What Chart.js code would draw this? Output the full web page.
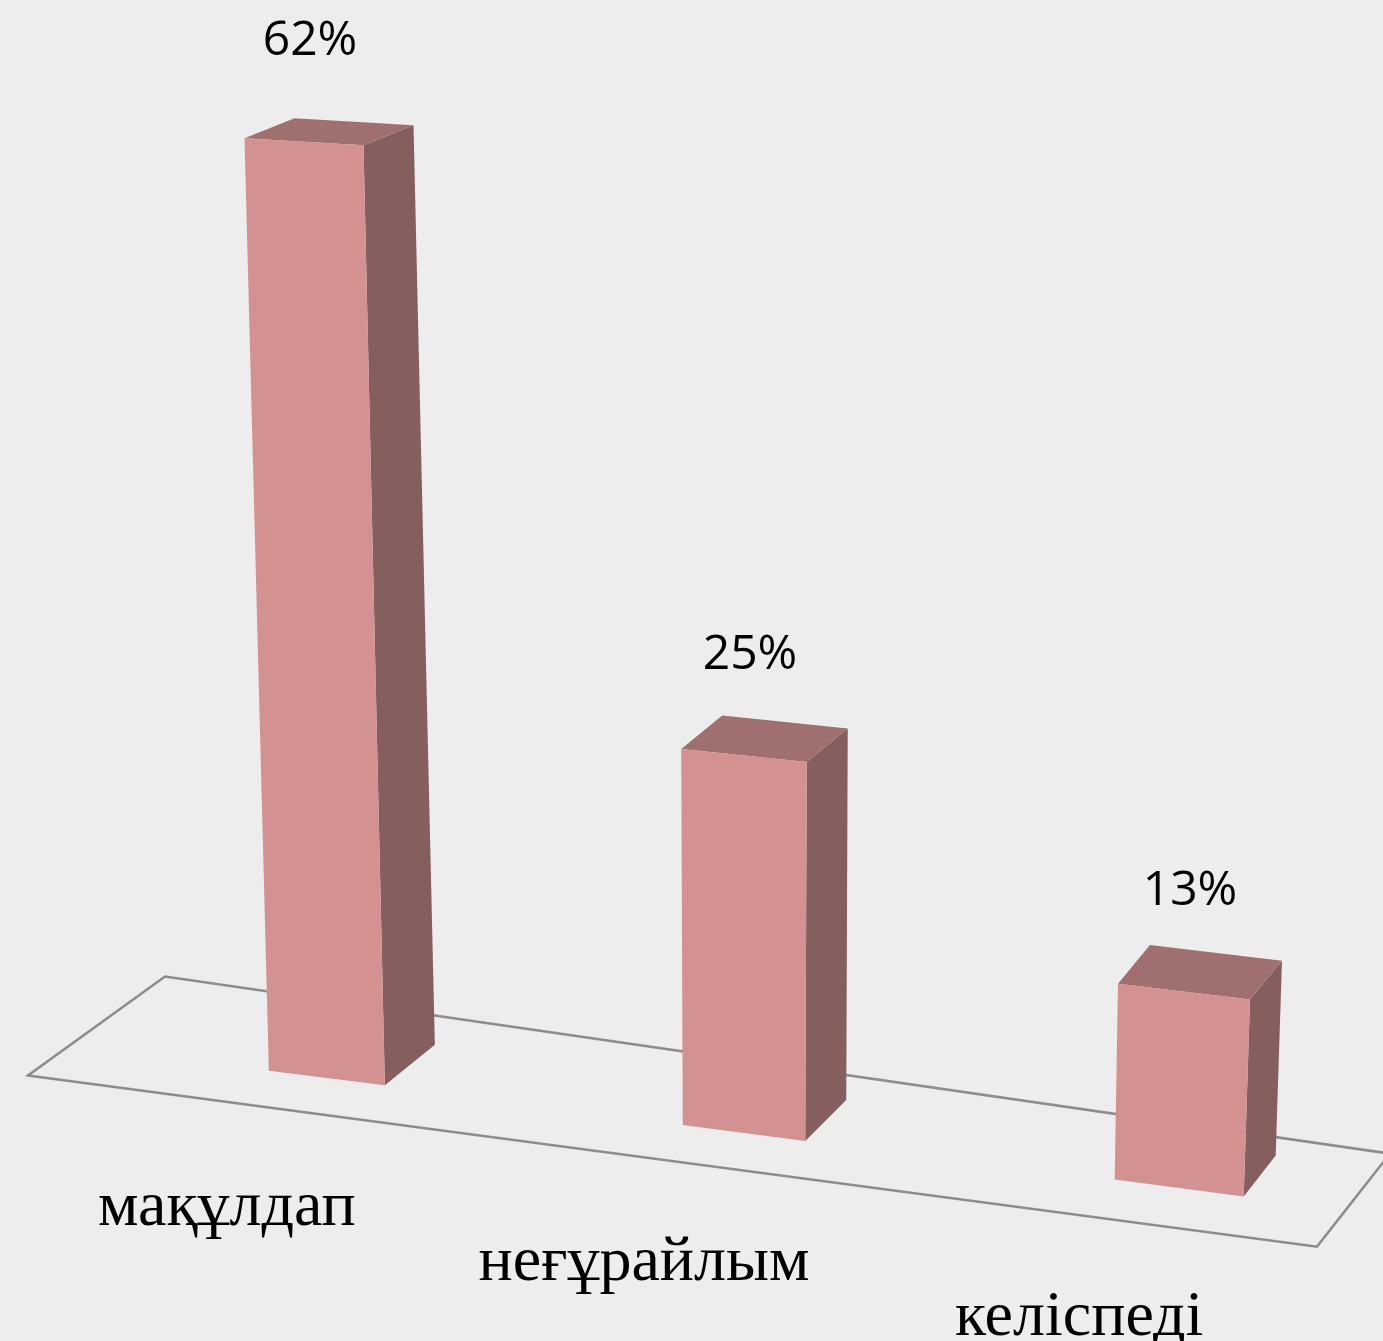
<!DOCTYPE html>
<html>
<head>
<meta charset="utf-8">
<script src="https://cdn.jsdelivr.net/npm/chart.js@4"></script>
<style>
  html, body { margin: 0; padding: 0; background: #ededed; }
  canvas { display: block; }
</style>
</head>
<body>
<canvas id="bar3d" width="1383" height="1341"></canvas>
<script>
const categories = ['мақұлдап', 'неғұрайлым', 'келіспеді'];
const percentages = [62, 25, 13];
const valueLabels = ['62%', '25%', '13%'];

// perspective helpers for the fake 3d look
const tilt = 0.125;
function edgeSlope(y) { return 0.05 + 0.00007 * y; }
function depthOf(xc, y, left) {
    return [50 - (xc - left) * 0.0205, Math.max(-41, -20 - 0.022 * (y - 140))];
}

const bars3d = {
    id: 'bars3d',
    beforeDraw(chart) {
        const ctx = chart.ctx;
        ctx.save();
        ctx.fillStyle = '#ededed';
        ctx.fillRect(0, 0, chart.width, chart.height);
        ctx.restore();
    },
    beforeDatasetsDraw(chart) {
        const ctx = chart.ctx;
        const area = chart.chartArea;
        const left = area.left, right = area.right, base = area.bottom;
        const mid = (left + right) / 2;

        // floor
        const fl = [left - 276, base + tilt * (-276) + 32];
        const fr = [right + 133, base + tilt * (right + 133 - left) + 42];
        const br = [right + 206, fr[1] - 93];
        const bl = [left - 139, fl[1] - 99];
        ctx.save();
        ctx.strokeStyle = '#8c8c8c';
        ctx.lineWidth = 2.5;
        ctx.lineJoin = 'miter';
        ctx.beginPath();
        ctx.moveTo(fl[0], fl[1]);
        ctx.lineTo(fr[0], fr[1]);
        ctx.lineTo(br[0], br[1]);
        ctx.lineTo(bl[0], bl[1]);
        ctx.closePath();
        ctx.stroke();
        ctx.restore();

        const meta = chart.getDatasetMeta(0);
        meta.data.forEach((bar, i) => {
            const xc = bar.x;
            const sh = tilt * (xc - left);
            const yt = bar.y + sh;
            const yb = bar.base + sh;
            const wt = bar.width - 5 + (xc - left) * 0.0148;
            const wb = wt - 3;
            const xb = xc + (mid - xc) * 0.0000555 * (yb - yt);
            const st = edgeSlope(yt), sb = edgeSlope(yb);

            const TL = [xc - wt / 2, yt - st * wt / 2];
            const TR = [xc + wt / 2, yt + st * wt / 2];
            const BL = [xb - wb / 2, yb - sb * wb / 2];
            const BR = [xb + wb / 2, yb + sb * wb / 2];
            const dT = depthOf(xc, yt, left);
            const dB = depthOf(xc, yb, left);

            const poly = (pts, color) => {
                ctx.beginPath();
                ctx.moveTo(pts[0][0], pts[0][1]);
                for (let p = 1; p < pts.length; p++) ctx.lineTo(pts[p][0], pts[p][1]);
                ctx.closePath();
                ctx.fillStyle = color;
                ctx.fill();
            };
            ctx.save();
            poly([TR, [TR[0] + dT[0], TR[1] + dT[1]], [BR[0] + dB[0], BR[1] + dB[1]], BR], '#855e5e');
            poly([TL, [TL[0] + dT[0], TL[1] + dT[1]], [TR[0] + dT[0], TR[1] + dT[1]], TR], '#a07070');
            poly([TL, TR, BR, BL], '#d39191');

            // value label
            ctx.fillStyle = '#000';
            ctx.font = '48px "Open Sans", sans-serif';
            ctx.textAlign = 'center';
            ctx.textBaseline = 'middle';
            ctx.fillText(valueLabels[i], xc + 6, yt - 100);

            // category label
            ctx.font = '64px "Liberation Serif", "DejaVu Serif", serif';
            ctx.textBaseline = 'alphabetic';
            ctx.fillText(categories[i], xb - 100, yb + 147);
            ctx.restore();
        });
        return false;
    }
};

new Chart(document.getElementById('bar3d').getContext('2d'), {
    type: 'bar',
    data: {
        labels: categories,
        datasets: [{
            data: percentages,
            backgroundColor: '#d39191',
            barThickness: 124,
            borderWidth: 0
        }]
    },
    options: {
        responsive: false,
        animation: false,
        devicePixelRatio: 1,
        layout: {
            padding: { left: 304, right: 199, top: 21, bottom: 263 }
        },
        scales: {
            x: { type: 'category', offset: false, display: false },
            y: { min: 0, max: 70, display: false }
        },
        plugins: {
            legend: { display: false },
            tooltip: { enabled: false }
        }
    },
    plugins: [bars3d]
});
</script>
</body>
</html>
